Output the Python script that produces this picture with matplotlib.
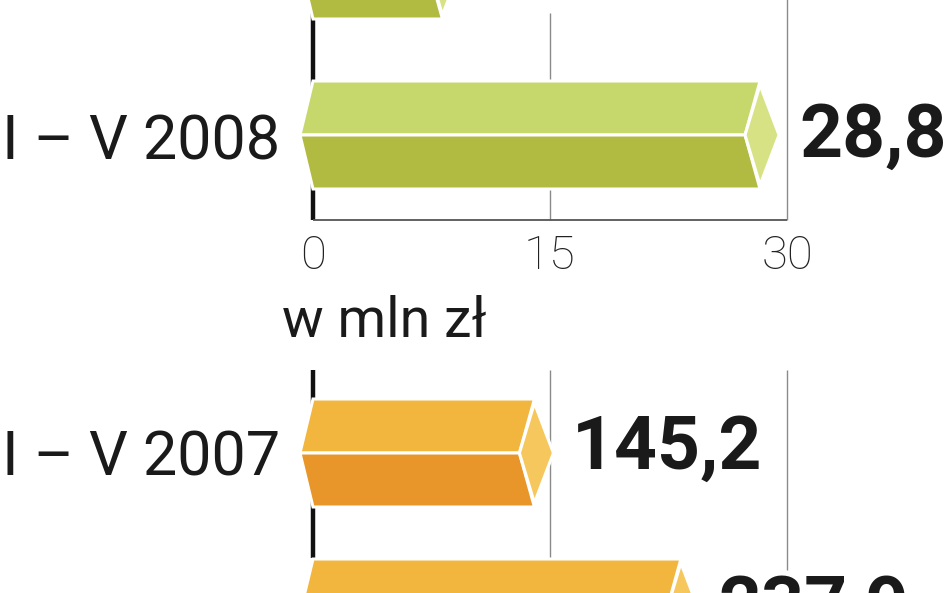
import matplotlib.pyplot as plt
from matplotlib.patches import Polygon

plt.rcParams['font.family'] = ['Roboto', 'DejaVu Sans']

# data (top green panel, bottom orange panel); the first green bar and the last orange bar are cut by the frame
green_labels = ['', 'I – V 2008']
green_values = [8.7, 28.8]
green_value_text = ['', '28,8']
green_ticks = [0, 15, 30]

orange_labels = ['I – V 2007', '']
orange_values = [145.2, 237.9]
orange_value_text = ['145,2', '237,9']

unit_text = 'w mln zł'

GREEN = ['#c6d86c', '#b1bb41', '#d7e285']   # top face, bottom face, end cap
ORANGE = ['#f2b53d', '#e8962a', '#f5c75c']

W, H = 948, 593
X0 = 313          # pixel of the zero line
X_FULL = 787      # pixel of the last grid line
HALF = 54         # half bar height in px


def px_to_pt(p):
    return p * 72 / 100


def setup(ax, xmax, row_px, first_row_y):
    kx = (X_FULL - X0) / xmax
    ax.set_xlim(-X0 / kx, (W - X0) / kx)
    top = -first_row_y / row_px
    bottom = (H - first_row_y) / row_px
    ax.set_ylim(bottom, top)
    ax.axis('off')
    return kx, row_px


def draw_bar(ax, y, v, kx, ky, colors):
    def p(base, dx, dy):
        return (base + dx / kx, y + dy / ky)
    top = [p(0, 0, -HALF), p(v, -8, -HALF), p(v, -23, 0), p(0, -13, 0)]
    bot = [p(0, -13, 0), p(v, -23, 0), p(v, -8, HALF), p(0, 0, HALF)]
    cap = [p(v, -23, 0), p(v, -8, -HALF + 4), p(v, 11, 0), p(v, -8, HALF - 4)]
    for pts, c in zip([top, bot, cap], colors):
        ax.add_patch(Polygon(pts, closed=True, facecolor=c, edgecolor='white',
                             linewidth=2.2, joinstyle='miter', zorder=3))


fig = plt.figure(figsize=(W / 100, H / 100), dpi=100)
ax_g = fig.add_axes([0, 0, 1, 1])
ax_o = fig.add_axes([0, 0, 1, 1])
ax_o.patch.set_alpha(0)

# ---- green panel
kx, ky = setup(ax_g, 30, 170, 135 - 170)
base_g = 1 + 85 / ky
ax_g.vlines(0, 1 - 125 / ky, base_g, color='#111111', lw=3.2, zorder=1)
ax_g.vlines(15, 1 - 122 / ky, base_g, color='#8a8a8a', lw=1.0, zorder=1)
ax_g.vlines(30, -1, base_g, color='#8a8a8a', lw=1.0, zorder=1)
ax_g.hlines(base_g, 0, 30, color='#555555', lw=1.3, zorder=1)
for i, (lab, v, vt) in enumerate(zip(green_labels, green_values, green_value_text)):
    draw_bar(ax_g, i, v, kx, ky, GREEN)
    ax_g.annotate(lab, (0, i), xytext=(px_to_pt(-33), px_to_pt(-25)), textcoords='offset points',
                  ha='right', va='baseline', fontsize=44, color='#1a1a1a', annotation_clip=False)
    ax_g.annotate(vt, (v, i), xytext=(px_to_pt(31), px_to_pt(-22)), textcoords='offset points',
                  ha='left', va='baseline', fontsize=54, fontweight='bold', color='#1a1a1a',
                  annotation_clip=False)
for t in green_ticks:
    ax_g.annotate(str(t), (t, base_g), xytext=(0, px_to_pt(-49)), textcoords='offset points',
                  ha='center', va='baseline', fontsize=34, fontweight='light', color='#222222')

fig.text(282 / W, 1 - 337 / H, unit_text, ha='left', va='baseline', fontsize=40, color='#1a1a1a')

# ---- orange panel
kx, ky = setup(ax_o, 300, 160, 453)
ax_o.vlines(0, -83 / ky, 105 / ky, color='#111111', lw=3.2, zorder=1)
ax_o.vlines(150, -83 / ky, 105 / ky, color='#8a8a8a', lw=1.0, zorder=1)
ax_o.vlines(300, -83 / ky, 117 / ky, color='#8a8a8a', lw=1.0, zorder=1)
for i, (lab, v, vt) in enumerate(zip(orange_labels, orange_values, orange_value_text)):
    draw_bar(ax_o, i, v, kx, ky, ORANGE)
    ax_o.annotate(lab, (0, i), xytext=(px_to_pt(-33), px_to_pt(-22)), textcoords='offset points',
                  ha='right', va='baseline', fontsize=44, color='#1a1a1a', annotation_clip=False)
    ax_o.annotate(vt, (v, i), xytext=(px_to_pt(29), px_to_pt(-16)), textcoords='offset points',
                  ha='left', va='baseline', fontsize=54, fontweight='bold', color='#1a1a1a',
                  annotation_clip=False)

fig.savefig('out.png', dpi=100)
